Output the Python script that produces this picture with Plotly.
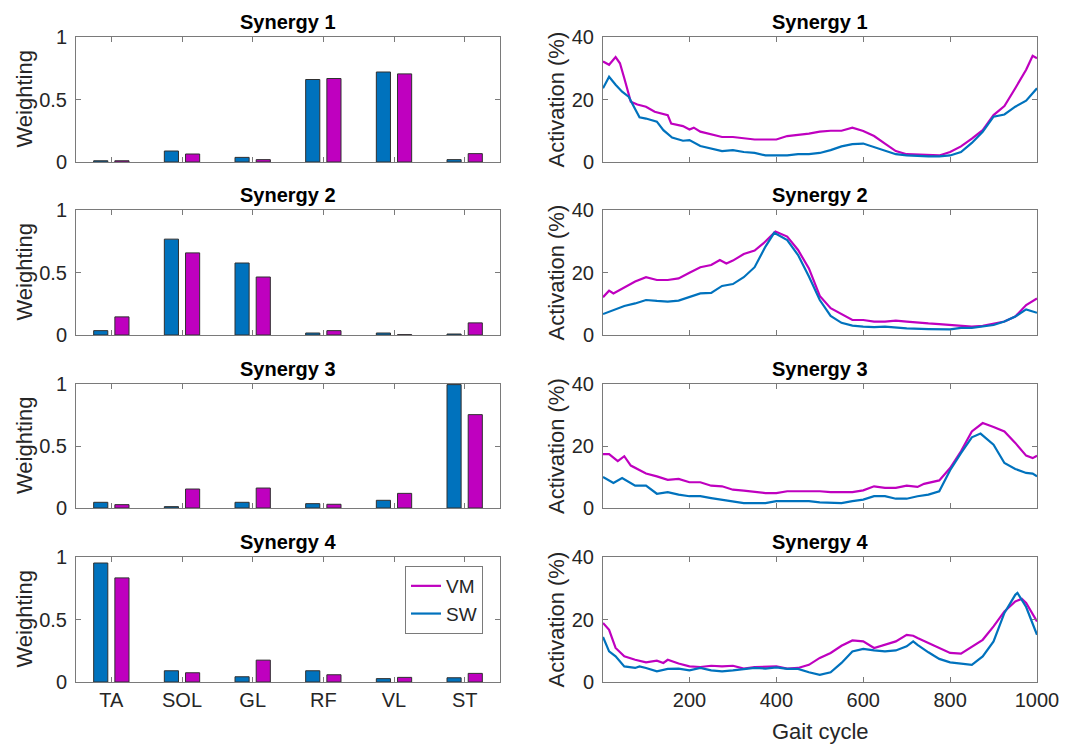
import plotly.graph_objects as go

# ---------------- data ----------------
muscles = ["TA", "SOL", "GL", "RF", "VL", "ST"]

w_sw_1 = [0.010, 0.088, 0.037, 0.660, 0.720, 0.019]
w_vm_1 = [0.010, 0.064, 0.019, 0.668, 0.705, 0.067]
w_sw_2 = [0.035, 0.767, 0.576, 0.016, 0.016, 0.008]
w_vm_2 = [0.145, 0.657, 0.464, 0.035, 0.003, 0.097]
w_sw_3 = [0.046, 0.011, 0.046, 0.035, 0.062, 0.995]
w_vm_3 = [0.027, 0.153, 0.161, 0.030, 0.118, 0.753]
w_sw_4 = [0.952, 0.090, 0.042, 0.090, 0.027, 0.034]
w_vm_4 = [0.833, 0.074, 0.175, 0.058, 0.037, 0.069]

a1_vm_x = [1, 15, 30, 40, 50, 65, 80, 100, 120, 135, 150, 158, 185, 200, 210, 225, 250, 275, 300, 325,
           350, 375, 400, 425, 450, 475, 500, 525, 550, 575, 600, 625, 650, 675, 700, 725, 750, 775,
           800, 825, 850, 875, 900, 925, 950, 975, 990, 1000]
a1_vm_y = [32.2, 31.1, 33.6, 31.6, 26.8, 19.3, 18.4, 17.7, 16.1, 15.5, 15.0, 12.3, 11.5, 10.4, 11.0,
           9.7, 8.9, 8.0, 8.0, 7.5, 7.2, 7.2, 7.2, 8.3, 8.6, 9.1, 9.7, 10.0, 10.0, 11.0, 9.9, 8.3, 5.9,
           3.5, 2.5, 2.4, 2.1, 2.1, 3.2, 5.0, 7.5, 10.2, 15.0, 17.9, 23.6, 29.5, 34.0, 33.2]
a1_sw_x = [1, 15, 30, 45, 60, 75, 85, 100, 125, 140, 160, 185, 200, 225, 250, 275, 300, 325, 350, 375,
           400, 425, 450, 475, 500, 525, 550, 575, 600, 625, 650, 675, 700, 725, 750, 775, 800, 825,
           850, 875, 900, 925, 950, 975, 1000]
a1_sw_y = [23.6, 27.3, 24.7, 22.5, 20.9, 17.2, 14.3, 13.9, 12.9, 10.2, 7.8, 6.8, 7.0, 5.1, 4.3, 3.5,
           3.8, 3.2, 2.9, 2.1, 2.1, 2.1, 2.5, 2.5, 2.9, 3.8, 5.0, 5.7, 5.9, 4.8, 3.5, 2.5, 2.1, 1.9,
           1.8, 1.8, 2.1, 3.2, 6.1, 9.7, 14.5, 15.2, 17.7, 19.6, 23.6]

a2_vm_x = [1, 15, 25, 50, 75, 100, 125, 150, 175, 200, 225, 250, 270, 285, 300, 325, 350, 370, 385,
           398, 425, 450, 475, 500, 525, 550, 575, 600, 625, 650, 675, 700, 725, 750, 775, 800, 825,
           850, 875, 900, 925, 950, 975, 1000]
a2_vm_y = [12.1, 14.2, 13.3, 15.3, 17.1, 18.5, 17.6, 17.6, 18.1, 19.9, 21.7, 22.4, 24.0, 22.9, 23.8,
           25.9, 27.0, 29.3, 31.3, 33.1, 31.5, 27.2, 21.3, 12.5, 8.6, 6.8, 4.8, 4.8, 4.3, 4.3, 4.6,
           4.3, 3.9, 3.7, 3.5, 3.2, 2.9, 2.7, 2.9, 3.5, 4.3, 5.9, 9.6, 11.7]
a2_sw_x = [1, 25, 50, 75, 100, 125, 150, 175, 200, 225, 250, 275, 300, 325, 350, 375, 395, 425, 450,
           475, 500, 525, 550, 575, 600, 625, 650, 700, 750, 800, 825, 850, 900, 925, 950, 975, 1000]
a2_sw_y = [6.7, 8.0, 9.3, 10.1, 11.2, 10.9, 10.7, 11.0, 12.1, 13.3, 13.5, 15.7, 16.3, 18.5, 21.7,
           28.3, 32.7, 30.4, 25.6, 18.7, 11.2, 6.1, 3.9, 3.0, 2.7, 2.5, 2.7, 2.1, 1.9, 1.8, 2.3, 2.3,
           3.2, 4.3, 5.9, 8.2, 7.1]

a3_vm_x = [1, 15, 35, 50, 65, 80, 100, 125, 150, 175, 200, 225, 250, 275, 300, 325, 350, 375, 400,
           425, 450, 475, 500, 525, 550, 575, 600, 625, 650, 675, 700, 725, 740, 760, 775, 800, 825,
           850, 875, 900, 925, 950, 975, 990, 1000]
a3_vm_y = [17.4, 17.4, 15.1, 16.7, 13.7, 12.6, 11.1, 10.2, 9.1, 9.4, 8.3, 8.3, 7.2, 7.0, 5.9, 5.6,
           5.1, 4.8, 4.8, 5.4, 5.4, 5.4, 5.4, 5.1, 5.1, 5.1, 5.7, 7.0, 6.5, 6.5, 7.2, 6.8, 7.8, 8.3,
           8.9, 12.9, 18.3, 24.7, 27.4, 26.1, 24.7, 21.0, 16.9, 16.1, 16.9]
a3_sw_x = [1, 25, 45, 75, 100, 125, 150, 175, 200, 225, 250, 275, 300, 325, 350, 375, 400, 425, 450,
           475, 500, 525, 550, 575, 600, 625, 650, 675, 700, 725, 750, 775, 800, 825, 850, 870, 900,
           925, 950, 975, 990, 1000]
a3_sw_y = [10.0, 8.1, 9.7, 7.2, 7.2, 4.6, 5.1, 4.3, 3.8, 3.8, 3.2, 2.7, 2.2, 1.6, 1.6, 1.6, 2.2, 2.2,
           2.2, 2.2, 1.8, 1.6, 1.6, 2.2, 2.7, 3.8, 3.8, 3.0, 3.0, 3.8, 4.3, 5.4, 12.2, 17.7, 22.8,
           24.0, 20.4, 14.5, 12.6, 11.3, 11.1, 10.2]

a4_vm_x = [1, 15, 30, 50, 75, 100, 125, 140, 150, 175, 200, 225, 250, 275, 300, 325, 350, 375, 400,
           425, 450, 475, 500, 525, 550, 575, 600, 625, 650, 675, 700, 715, 725, 750, 775, 800, 825,
           850, 875, 900, 925, 950, 965, 975, 1000]
a4_vm_y = [18.9, 16.7, 10.9, 8.2, 7.1, 6.3, 6.8, 6.1, 7.1, 5.9, 5.0, 4.8, 5.2, 5.0, 5.2, 4.3, 4.8,
           5.0, 5.0, 4.3, 4.5, 5.5, 7.7, 9.3, 11.6, 13.3, 13.0, 10.9, 11.9, 13.0, 15.1, 14.8, 14.1,
           12.5, 11.1, 9.3, 9.1, 11.4, 13.5, 17.8, 22.6, 25.8, 26.6, 25.3, 19.4]
a4_sw_x = [1, 15, 30, 50, 75, 85, 100, 125, 150, 175, 200, 225, 250, 275, 300, 325, 350, 375, 400,
           425, 450, 475, 500, 525, 550, 575, 600, 625, 650, 675, 700, 715, 725, 750, 775, 800, 825,
           850, 875, 900, 925, 950, 955, 975, 1000]
a4_sw_y = [14.4, 9.8, 8.2, 5.0, 4.5, 5.0, 4.5, 3.4, 4.2, 4.3, 3.7, 4.5, 3.7, 3.4, 3.7, 4.2, 4.5, 4.3,
           4.7, 4.2, 4.2, 3.1, 2.3, 3.1, 6.1, 9.8, 10.6, 10.1, 9.8, 10.1, 11.4, 13.0, 11.9, 9.5, 7.4,
           6.3, 5.9, 5.5, 8.2, 13.0, 22.1, 27.9, 28.5, 24.0, 15.1]

titles = ["Synergy 1", "Synergy 2", "Synergy 3", "Synergy 4"]
weights = [(w_sw_1, w_vm_1), (w_sw_2, w_vm_2), (w_sw_3, w_vm_3), (w_sw_4, w_vm_4)]
acts = [((a1_vm_x, a1_vm_y), (a1_sw_x, a1_sw_y)),
        ((a2_vm_x, a2_vm_y), (a2_sw_x, a2_sw_y)),
        ((a3_vm_x, a3_vm_y), (a3_sw_x, a3_sw_y)),
        ((a4_vm_x, a4_vm_y), (a4_sw_x, a4_sw_y))]

# ---------------- style ----------------
W, H = 1069, 744          # browser window
OFF = 8                   # page body margin
FW, FH = W - OFF, H - OFF  # figure reaches the window's right / bottom edge


def px(xp):
    return (xp - OFF) / FW


def py(yp):
    return 1 - (yp - OFF) / FH


BLUE = "#0072BD"
MAG = "#BF00BF"
AX = "#7a7a7a"
TXT = "#262626"
FONT = "Liberation Sans, Arial, sans-serif"

left_x = [px(76), px(500)]
right_x = [px(603), px(1037)]
rows_px = [(37, 162), (210, 335), (384, 508), (557, 682)]
ydoms = [[py(b), py(t)] for t, b in rows_px]

fig = go.Figure()
layout = dict(
    template="none",
    width=FW, height=FH, margin=dict(l=0, r=0, t=0, b=0, pad=0), autosize=False,
    paper_bgcolor="white", plot_bgcolor="white",
    font=dict(family=FONT, size=20, color=TXT),
    showlegend=True,
    legend=dict(x=px(405), y=py(566), xanchor="left", yanchor="top",
                bgcolor="white", bordercolor=AX, borderwidth=1,
                font=dict(size=19, color=TXT), tracegroupgap=0),
)
annotations = []

common_axis = dict(showline=True, linecolor=AX, linewidth=1, mirror="allticks",
                   ticks="inside", ticklen=5, tickcolor=AX, showgrid=False, zeroline=False,
                   automargin=False,
                   tickfont=dict(size=20, color=TXT, family=FONT))

for i in range(4):
    li = 2 * i + 1
    ri = 2 * i + 2
    sw, vm = weights[i]
    fig.add_trace(go.Bar(x=muscles, y=sw, width=0.2, offset=-0.25, marker_color=BLUE,
                         marker_line=dict(color="#303030", width=1), showlegend=False,
                         xaxis=f"x{li}", yaxis=f"y{li}"))
    fig.add_trace(go.Bar(x=muscles, y=vm, width=0.2, offset=0.05, marker_color=MAG,
                         marker_line=dict(color="#303030", width=1), showlegend=False,
                         xaxis=f"x{li}", yaxis=f"y{li}"))
    (vx, vy), (sx, sy) = acts[i]
    fig.add_trace(go.Scatter(x=vx, y=vy, mode="lines", name="VM",
                             line=dict(color=MAG, width=2.2), showlegend=(i == 0),
                             xaxis=f"x{ri}", yaxis=f"y{ri}"))
    fig.add_trace(go.Scatter(x=sx, y=sy, mode="lines", name="SW",
                             line=dict(color=BLUE, width=2.2), showlegend=(i == 0),
                             xaxis=f"x{ri}", yaxis=f"y{ri}"))

    bottom = (i == 3)
    layout[f"xaxis{li}"] = dict(common_axis, domain=left_x, anchor=f"y{li}",
                                type="category", range=[-0.5, 5.5],
                                showticklabels=bottom)
    layout[f"yaxis{li}"] = dict(common_axis, domain=ydoms[i], anchor=f"x{li}",
                                range=[0, 1], tickvals=[0, 0.5, 1], ticktext=["0", "0.5", "1"],
                                ticklabelstandoff=4)
    layout[f"xaxis{ri}"] = dict(common_axis, domain=right_x, anchor=f"y{ri}",
                                range=[1, 1000], tickvals=[200, 400, 600, 800, 1000],
                                showticklabels=bottom)
    layout[f"yaxis{ri}"] = dict(common_axis, domain=ydoms[i], anchor=f"x{ri}",
                                range=[0, 40], tickvals=[0, 20, 40], ticklabelstandoff=4)

    top_y = ydoms[i][1]
    mid_y = (ydoms[i][0] + ydoms[i][1]) / 2
    for xd in (left_x, right_x):
        annotations.append(dict(text=f"<b>{titles[i]}</b>", x=(xd[0] + xd[1]) / 2, y=top_y,
                                xref="paper", yref="paper", xanchor="center", yanchor="bottom",
                                yshift=2, showarrow=False,
                                font=dict(size=20, color="black", family=FONT)))
    annotations.append(dict(text="Weighting", x=px(24), y=mid_y, xref="paper", yref="paper",
                            xanchor="center", yanchor="middle", textangle=-90, showarrow=False,
                            font=dict(size=22, color=TXT, family=FONT)))
    annotations.append(dict(text="Activation (%)", x=px(556), y=mid_y, xref="paper",
                            yref="paper", xanchor="center", yanchor="middle", textangle=-90,
                            showarrow=False, font=dict(size=22, color=TXT, family=FONT)))

annotations.append(dict(text="Gait cycle", x=(right_x[0] + right_x[1]) / 2, y=py(731),
                        xref="paper", yref="paper", xanchor="center", yanchor="middle",
                        showarrow=False, font=dict(size=22, color=TXT, family=FONT)))

layout["annotations"] = annotations
layout["barmode"] = "overlay"
fig.update_layout(**layout)
fig.write_html("out.html")
